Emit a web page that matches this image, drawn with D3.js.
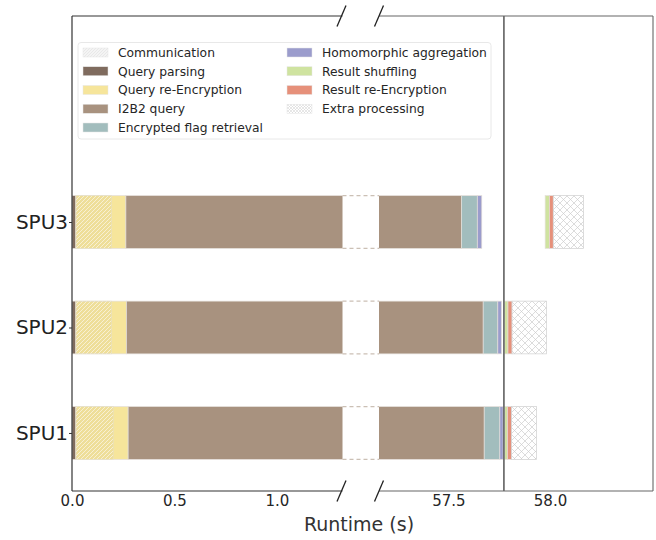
<!DOCTYPE html>
<html><head><meta charset="utf-8">
<script src="https://cdn.jsdelivr.net/npm/d3@7"></script>
<style>body{margin:0;background:#fff}svg{display:block;font-family:"DejaVu Sans",sans-serif}</style>
</head><body>
<svg id="chart" width="656" height="540"></svg>
<script>
// ---- data (seconds) ----
const categories = ["SPU1", "SPU2", "SPU3"];
const queryParsing = [0.019, 0.019, 0.019];
const queryReEncryption = [0.255, 0.247, 0.244];
const communication = [0.182, 0.174, 0.174];   // overlaid on query re-encryption
const i2b2Query = [57.402, 57.405, 57.302];
const flagRetrieval = [0.077, 0.072, 0.077];
const homomorphicAgg = [0.016, 0.018, 0.022];
const waiting = [0.008, 0.016, 0.312];          // idle time, not drawn
const resultShuffling = [0.013, 0.016, 0.021];
const resultReEncryption = [0.021, 0.020, 0.019];
const extraProcessing = [0.122, 0.169, 0.149];
const markerTime = 57.773;
const leftTicks = [0.0, 0.5, 1.0];
const rightTicks = [57.5, 58.0];
const leftDomain = [0, 1.32];
const rightDomain = [57.158, 58.507];

const keys = ["queryParsing","queryReEncryption","i2b2Query","flagRetrieval","homomorphicAgg","waiting","resultShuffling","resultReEncryption","extraProcessing"];
const series = {queryParsing, queryReEncryption, i2b2Query, flagRetrieval, homomorphicAgg, waiting, resultShuffling, resultReEncryption, extraProcessing};
const colors = {
  queryParsing: "#7f6b5e", queryReEncryption: "#f6e59b", i2b2Query: "#a8927f",
  flagRetrieval: "#a2bdbd", homomorphicAgg: "#9b9ccc", waiting: "none",
  resultShuffling: "#cfe3a0", resultReEncryption: "#e6907a", extraProcessing: "url(#cross)"
};
const legendItems = [
  {label: "Communication", fill: "url(#commLegend)"},
  {label: "Query parsing", fill: colors.queryParsing},
  {label: "Query re-Encryption", fill: colors.queryReEncryption},
  {label: "I2B2 query", fill: colors.i2b2Query},
  {label: "Encrypted flag retrieval", fill: colors.flagRetrieval},
  {label: "Homomorphic aggregation", fill: colors.homomorphicAgg},
  {label: "Result shuffling", fill: colors.resultShuffling},
  {label: "Result re-Encryption", fill: colors.resultReEncryption},
  {label: "Extra processing", fill: "url(#crossLegend)"}
];

(function () {
const table = categories.map((c, i) => {
  const row = {cat: c, idx: i};
  keys.forEach(k => row[k] = series[k][i]);
  return row;
});
const stacked = d3.stack().keys(keys)(table);

const svg = d3.select("#chart");
const T = 16, B = 491, L = 72, R = 653;
const xL = d3.scaleLinear().domain(leftDomain).range([L, 342.5]);
const xR = d3.scaleLinear().domain(rightDomain).range([379, R]);
const y = d3.scaleLinear().domain([-0.55, 3.953]).range([B, T]);
const barH = y(0) - y(0.5);

// ---- patterns ----
const defs = svg.append("defs");
const ph = defs.append("pattern").attr("id","hatch").attr("patternUnits","userSpaceOnUse").attr("width",4).attr("height",4);
ph.append("rect").attr("width",4).attr("height",4).attr("fill","#b8ad8a").attr("fill-opacity",0.12);
ph.append("path").attr("d","M-1,1 l2,-2 M0,4 l4,-4 M3,5 l2,-2").attr("stroke","#fff").attr("stroke-width",0.8).attr("stroke-opacity",0.7);
const pl = defs.append("pattern").attr("id","commLegend").attr("patternUnits","userSpaceOnUse").attr("width",3).attr("height",3);
pl.append("rect").attr("width",3).attr("height",3).attr("fill","#f4f4f4");
pl.append("path").attr("d","M-1,1 l2,-2 M0,3 l3,-3 M2,4 l2,-2").attr("stroke","#e2e2e2").attr("stroke-width",0.7);
const pc = defs.append("pattern").attr("id","cross").attr("patternUnits","userSpaceOnUse").attr("width",7).attr("height",7);
pc.append("rect").attr("width",7).attr("height",7).attr("fill","#fff");
pc.append("path").attr("d","M0,0 L7,7 M7,0 L0,7").attr("stroke","#cdcdcd").attr("stroke-width",0.7);
const pcl = defs.append("pattern").attr("id","crossLegend").attr("patternUnits","userSpaceOnUse").attr("width",3).attr("height",3);
pcl.append("rect").attr("width",3).attr("height",3).attr("fill","#fff");
pcl.append("path").attr("d","M0,0 L3,3 M3,0 L0,3").attr("stroke","#d6d6d6").attr("stroke-width",0.6);
defs.append("clipPath").attr("id","clipL").append("rect").attr("x",L).attr("y",T).attr("width",342.5-L).attr("height",B-T);
defs.append("clipPath").attr("id","clipR").append("rect").attr("x",379).attr("y",T).attr("width",R-379).attr("height",B-T);

// ---- bars ----
[{x: xL, clip: "url(#clipL)"}, {x: xR, clip: "url(#clipR)"}].forEach(p => {
  const g = svg.append("g").attr("clip-path", p.clip);
  g.selectAll("g.layer").data(stacked.filter(s => s.key !== "waiting")).join("g").attr("class","layer")
    .selectAll("rect").data(s => s.map(d => ({d, key: s.key}))).join("rect")
    .attr("x", o => p.x(o.d[0]))
    .attr("width", o => Math.max(0, p.x(o.d[1]) - p.x(o.d[0])))
    .attr("y", o => y(o.d.data.idx) - barH/2)
    .attr("height", barH)
    .attr("fill", o => colors[o.key])
    .attr("stroke", o => o.key === "extraProcessing" ? "#cfcfcf" : "#e4dfda")
    .attr("stroke-width", 0.7);
  g.selectAll("rect.comm").data(table).join("rect").attr("class","comm")
    .attr("x", d => p.x(d.queryParsing))
    .attr("width", d => p.x(d.queryParsing + communication[d.idx]) - p.x(d.queryParsing))
    .attr("y", d => y(d.idx) - barH/2)
    .attr("height", barH)
    .attr("fill", "url(#hatch)")
    .attr("stroke", "#e6dfc2").attr("stroke-width", 0.6);
});

// dashed edges of the bars across the break
const brk = svg.append("g");
table.forEach(d => {
  [-barH/2, barH/2].forEach(off => {
    brk.append("line").attr("x1", xL(leftDomain[1])).attr("x2", xR(rightDomain[0]))
      .attr("y1", y(d.idx) + off).attr("y2", y(d.idx) + off)
      .attr("stroke", "#cbc0b5").attr("stroke-width", 1.2).attr("stroke-dasharray", "4,3");
  });
});

// marker line
svg.append("line").attr("x1", xR(markerTime)).attr("x2", xR(markerTime)).attr("y1", T).attr("y2", B)
  .attr("stroke", "#555").attr("stroke-width", 1.5);

// ---- spines ----
const sp = svg.append("g").attr("fill","none");
sp.append("line").attr("x1",L).attr("x2",L).attr("y1",T).attr("y2",B).attr("stroke","#333").attr("stroke-width",1.2);
[T, B].forEach(yy => {
  sp.append("line").attr("x1",L).attr("x2",xL(leftDomain[1])).attr("y1",yy).attr("y2",yy).attr("stroke","#333").attr("stroke-width",1.1);
  sp.append("line").attr("x1",xR(rightDomain[0])).attr("x2",R).attr("y1",yy).attr("y2",yy).attr("stroke","#666").attr("stroke-width",1.1);
  [xL(leftDomain[1]) - 1, xR(rightDomain[0])].forEach(xx => {
    sp.append("line").attr("x1",xx-4.5).attr("x2",xx+4.5).attr("y1",yy+10.5).attr("y2",yy-10.5).attr("stroke","#222").attr("stroke-width",1.3);
  });
});
sp.append("line").attr("x1",R).attr("x2",R).attr("y1",T).attr("y2",B).attr("stroke","#666").attr("stroke-width",1.1);

// ---- axes ----
const axL = svg.append("g").attr("transform",`translate(0,${B})`)
  .call(d3.axisBottom(xL).tickValues(leftTicks).tickFormat(d3.format(".1f")).tickSize(0).tickPadding(4));
const axR = svg.append("g").attr("transform",`translate(0,${B})`)
  .call(d3.axisBottom(xR).tickValues(rightTicks).tickFormat(d3.format(".1f")).tickSize(0).tickPadding(4));
[axL, axR].forEach(a => {
  a.select(".domain").remove();
  a.selectAll("text").attr("font-size", 15).attr("fill", "#262626").attr("font-family", "DejaVu Sans");
});
const axY = svg.append("g").attr("transform",`translate(${L},0)`)
  .call(d3.axisLeft(y).tickValues(categories.map((c,i)=>i)).tickFormat(i => categories[i]).tickSize(3).tickPadding(1));
axY.select(".domain").remove();
axY.selectAll("line").attr("stroke","#333");
axY.selectAll("text").attr("font-size", 20).attr("fill","#222").attr("font-family","DejaVu Sans");

svg.append("text").attr("x", 359).attr("y", 531).attr("text-anchor","middle")
  .attr("font-size", 19).attr("fill","#333").text("Runtime (s)");

// ---- legend ----
const lg = svg.append("g");
lg.append("rect").attr("x",78).attr("y",42.5).attr("width",413).attr("height",96.5).attr("rx",3)
  .attr("fill","#fff").attr("fill-opacity",0.85).attr("stroke","#e2e2e2").attr("stroke-width",0.8);
const rowY = i => 52.5 + i * 18.75;
legendItems.forEach((it, i) => {
  const col = i < 5 ? 0 : 1, r = i < 5 ? i : i - 5;
  const px = col === 0 ? 83 : 287;
  lg.append("rect").attr("x", px).attr("y", rowY(r) - 4.5).attr("width", 25).attr("height", 9)
    .attr("fill", it.fill).attr("stroke", "#e6e6e6").attr("stroke-width", 0.5);
  lg.append("text").attr("x", px + 35).attr("y", rowY(r)).attr("dy","0.35em")
    .attr("font-size", 12.3).attr("fill","#262626").text(it.label);
});
})();
</script>
</body></html>
